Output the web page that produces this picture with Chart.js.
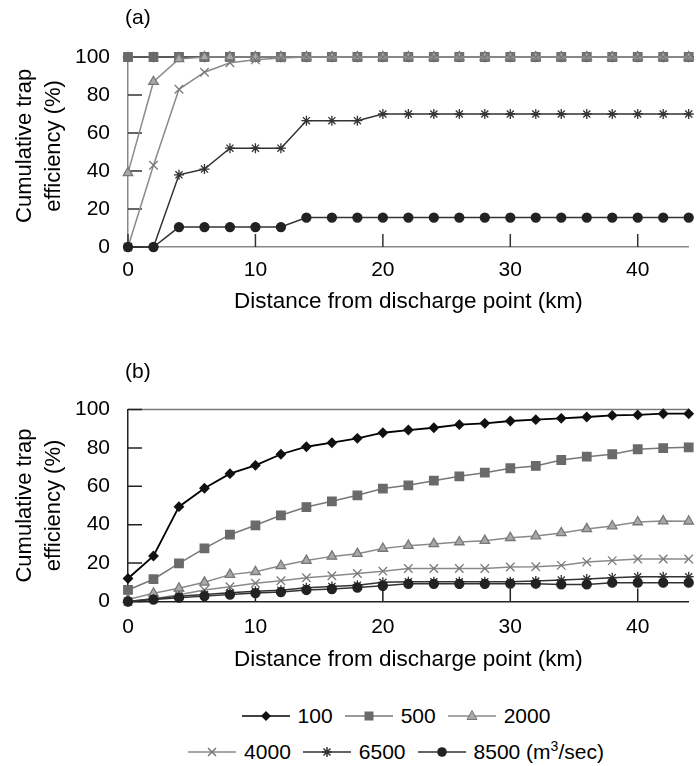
<!DOCTYPE html>
<html lang="en">
<head>
  <meta charset="UTF-8">
  <title>Cumulative trap efficiency</title>
  <script src="https://cdn.jsdelivr.net/npm/chart.js"></script>
  <style>
    body { margin: 0; width: 696px; height: 766px; overflow: hidden; background: #fff;
           font-family: "Liberation Sans", Arial, sans-serif; position: relative; }
    canvas { position: absolute; left: 0; }
    #chartA { top: 0; }
    #chartB { top: 340px; }
    #legend { position: absolute; left: 96px; width: 600px; top: 698px; text-align: center;
              font-size: 21px; color: #000; }
    .row { height: 36px; line-height: 36px; white-space: nowrap; }
    .item { display: inline-block; margin: 0 6px; }
    .item svg { vertical-align: -3px; margin-right: 8px; }
    sup { font-size: 14px; line-height: 0; }
  </style>
</head>
<body>
  <canvas id="chartA" width="696" height="320"></canvas>
  <canvas id="chartB" width="696" height="340"></canvas>
  <div id="legend"></div>

  <script>
    // distance from discharge point (km)
    const distances = [0, 2, 4, 6, 8, 10, 12, 14, 16, 18, 20, 22, 24, 26, 28, 30, 32, 34, 36, 38, 40, 42, 44];
    const xTicks = [0, 10, 20, 30, 40];
    const yTicks = [0, 20, 40, 60, 80, 100];
    const seriesNames = ['100', '500', '2000', '4000', '6500', '8500'];

    // panel (a)
    const a100 = [100, 100, 100, 100, 100, 100, 100, 100, 100, 100, 100, 100, 100, 100, 100, 100, 100, 100, 100, 100, 100, 100, 100];
    const a500 = [100, 100, 100, 100, 100, 100, 100, 100, 100, 100, 100, 100, 100, 100, 100, 100, 100, 100, 100, 100, 100, 100, 100];
    const a2000 = [39, 87, 99, 100, 100, 100, 100, 100, 100, 100, 100, 100, 100, 100, 100, 100, 100, 100, 100, 100, 100, 100, 100];
    const a4000 = [0, 43, 83, 92, 97, 98.5, 99.5, 100, 100, 100, 100, 100, 100, 100, 100, 100, 100, 100, 100, 100, 100, 100, 100];
    const a6500 = [0, 0, 38, 41, 52, 52, 52, 66.5, 66.5, 66.5, 70, 70, 70, 70, 70, 70, 70, 70, 70, 70, 70, 70, 70];
    const a8500 = [0, 0, 10.5, 10.5, 10.5, 10.5, 10.5, 15.5, 15.5, 15.5, 15.5, 15.5, 15.5, 15.5, 15.5, 15.5, 15.5, 15.5, 15.5, 15.5, 15.5, 15.5, 15.5];

    // panel (b)
    const b100 = [12, 23.7, 49.4, 59, 66.6, 70.9, 76.7, 80.6, 82.7, 85, 87.9, 89.3, 90.5, 92.1, 92.8, 94, 94.7, 95.4, 96.1, 96.9, 97.2, 97.8, 97.8];
    const b500 = [6, 11.6, 19.9, 27.7, 34.8, 39.7, 44.9, 49.2, 52.2, 55.3, 58.8, 60.5, 62.9, 65.2, 67.1, 69.4, 70.6, 73.7, 75.4, 76.7, 79.3, 79.9, 80.3];
    const b2000 = [1, 4.3, 6.9, 10, 14, 15.5, 18.6, 21.3, 23.5, 24.9, 27.6, 29.1, 30, 31, 31.7, 33.2, 34.1, 35.7, 37.8, 39.3, 41.4, 41.9, 41.8];
    const b4000 = [0, 1.5, 3.5, 6, 7.7, 9.5, 10.8, 12.4, 13.4, 14.6, 15.8, 17.2, 17.2, 17.2, 17.2, 18, 18.1, 18.8, 20.6, 21.3, 22.1, 22.1, 22.1];
    const b6500 = [0, 1.3, 2.7, 3.6, 4.5, 5.3, 5.8, 7.2, 7.8, 8.5, 10, 10.3, 10.3, 10.3, 10.3, 10.3, 10.7, 11.2, 11.7, 12.4, 12.9, 12.9, 12.9];
    const b8500 = [0, 1, 2, 2.8, 3.6, 4.4, 4.9, 6, 6.5, 7.3, 8.2, 9.2, 9.2, 9.2, 9.2, 9.3, 9.3, 8.9, 8.9, 9.8, 9.8, 9.8, 9.8];

    const styles = {
      '100':  { line: '#000', fill: '#111', stroke: '#111', shape: 'rectRot', r: 4.5, lw: 1.8 },
      '500':  { line: '#777', fill: '#6a6a6a', stroke: '#6a6a6a', shape: 'rect', r: 6, lw: 1.5 },
      '2000': { line: '#8a8a8a', fill: '#a8a8a8', stroke: '#777', shape: 'triangle', r: 5.5, lw: 1.5 },
      '4000': { line: '#8a8a8a', fill: '#7a7a7a', stroke: '#7a7a7a', shape: 'crossRot', r: 6, lw: 1.5 },
      '6500': { line: '#333', fill: '#333', stroke: '#333', shape: 'star', r: 5, lw: 1.5 },
      '8500': { line: '#333', fill: '#222', stroke: '#222', shape: 'circle', r: 4.5, lw: 1.5 }
    };

    const font = '"Liberation Sans", Arial, sans-serif';

    // inner tick marks, top frame line and panel letter
    const frame = {
      id: 'frame',
      beforeDatasetsDraw(chart, args, opts) {
        const { ctx, chartArea: a, scales: { x, y } } = chart;
        ctx.save();
        ctx.lineWidth = 1.5;
        ctx.strokeStyle = opts.topColor;
        ctx.beginPath();
        ctx.moveTo(a.left, a.top);
        ctx.lineTo(a.right, a.top);
        ctx.stroke();
        ctx.strokeStyle = opts.tickColor;
        ctx.beginPath();
        x.ticks.forEach(t => {
          const px = x.getPixelForValue(t.value);
          ctx.moveTo(px, a.bottom);
          ctx.lineTo(px, a.bottom - 13);
        });
        y.ticks.forEach(t => {
          const py = y.getPixelForValue(t.value);
          ctx.moveTo(a.left, py);
          ctx.lineTo(a.left + 14, py);
        });
        ctx.stroke();
        ctx.fillStyle = '#000';
        ctx.font = '21px ' + font;
        ctx.textBaseline = 'middle';
        ctx.fillText(opts.label, a.left - 3, a.top - opts.labelUp);
        ctx.restore();
      }
    };

    function makeChart(id, values, cfg) {
      const datasets = seriesNames.map((name, i) => {
        const s = styles[name];
        return {
          label: name,
          data: distances.map((d, j) => ({ x: d, y: values[i][j] })),
          borderColor: s.line,
          borderWidth: s.lw,
          pointStyle: s.shape,
          pointRadius: s.r,
          pointBackgroundColor: s.fill,
          pointBorderColor: s.stroke,
          pointBorderWidth: 1.3,
          tension: 0,
          clip: false,
          order: seriesNames.length - i
        };
      });

      new Chart(document.getElementById(id), {
        type: 'line',
        data: { datasets: datasets },
        options: {
          responsive: false,
          animation: false,
          layout: { padding: { top: cfg.top, right: 0, left: 0, bottom: cfg.bottom } },
          plugins: {
            legend: { display: false },
            tooltip: { enabled: false },
            frame: { label: cfg.label, labelUp: cfg.labelUp, tickColor: cfg.tickColor, topColor: cfg.topColor }
          },
          scales: {
            x: {
              type: 'linear',
              min: 0,
              max: 44,
              afterBuildTicks: s => { s.ticks = xTicks.map(v => ({ value: v })); },
              afterFit: s => { s.height = cfg.xHeight; },
              grid: { display: false, drawTicks: false },
              border: { color: cfg.axisColor, width: 1.5 },
              ticks: { color: '#000', padding: cfg.xPad, maxRotation: 0, font: { family: font, size: 21 } },
              title: {
                display: true,
                text: 'Distance from discharge point (km)',
                color: '#000',
                padding: { top: 0, bottom: cfg.titlePad },
                font: { family: font, size: 22.5 }
              }
            },
            y: {
              min: 0,
              max: 100,
              afterBuildTicks: s => { s.ticks = yTicks.map(v => ({ value: v })); },
              afterFit: s => { s.width = 128; },
              grid: { display: false, drawTicks: false },
              border: { color: cfg.axisColor, width: 1.5 },
              ticks: { color: '#000', padding: 18, font: { family: font, size: 21 } },
              title: {
                display: true,
                text: cfg.yTitle,
                color: '#000',
                padding: { top: 11, bottom: 0 },
                font: { family: font, size: 22, lineHeight: 1.3 }
              }
            }
          }
        },
        plugins: [frame]
      });
    }

    makeChart('chartA', [a100, a500, a2000, a4000, a6500, a8500], {
      label: '(a)', labelUp: 39, top: 57, bottom: 0, xHeight: 73, xPad: 11, titlePad: 5,
      axisColor: '#888', tickColor: '#333', topColor: '#999',
      yTitle: ['\u00a0\u00a0Cumulative trap', '\u00a0\u00a0efficiency (%)']
    });
    makeChart('chartB', [b100, b500, b2000, b4000, b6500, b8500], {
      label: '(b)', labelUp: 37, top: 69.5, bottom: 0.5, xHeight: 78, xPad: 13, titlePad: 6,
      axisColor: '#222', tickColor: '#222', topColor: '#777',
      yTitle: ['Cumulative trap', 'efficiency (%)']
    });

    // shared legend
    function symbol(name) {
      const s = styles[name];
      let m = '';
      if (s.shape === 'rectRot') m = `<polygon points="24,5 29,10 24,15 19,10" fill="${s.fill}"/>`;
      if (s.shape === 'rect') m = `<rect x="19.5" y="5.5" width="9" height="9" fill="${s.fill}"/>`;
      if (s.shape === 'triangle') m = `<polygon points="24,4.5 29,13.5 19,13.5" fill="${s.fill}" stroke="${s.stroke}"/>`;
      if (s.shape === 'crossRot') m = `<path d="M20,6 L28,14 M28,6 L20,14" stroke="${s.stroke}" stroke-width="1.6"/>`;
      if (s.shape === 'star') m = `<path d="M20.5,6.5 L27.5,13.5 M27.5,6.5 L20.5,13.5 M24,5 L24,15 M19,10 L29,10" stroke="${s.stroke}" stroke-width="1.5"/>`;
      if (s.shape === 'circle') m = `<circle cx="24" cy="10" r="4.8" fill="${s.fill}"/>`;
      return `<svg width="48" height="20"><line x1="0" y1="10" x2="48" y2="10" stroke="${s.line}" stroke-width="1.5"/>${m}</svg>`;
    }
    const rows = [seriesNames.slice(0, 3), seriesNames.slice(3)];
    document.getElementById('legend').innerHTML = rows.map(r =>
      '<div class="row">' + r.map(n =>
        `<span class="item">${symbol(n)}${n}${n === '8500' ? ' (m<sup>3</sup>/sec)' : ''}</span>`
      ).join('') + '</div>'
    ).join('');
  </script>
</body>
</html>
